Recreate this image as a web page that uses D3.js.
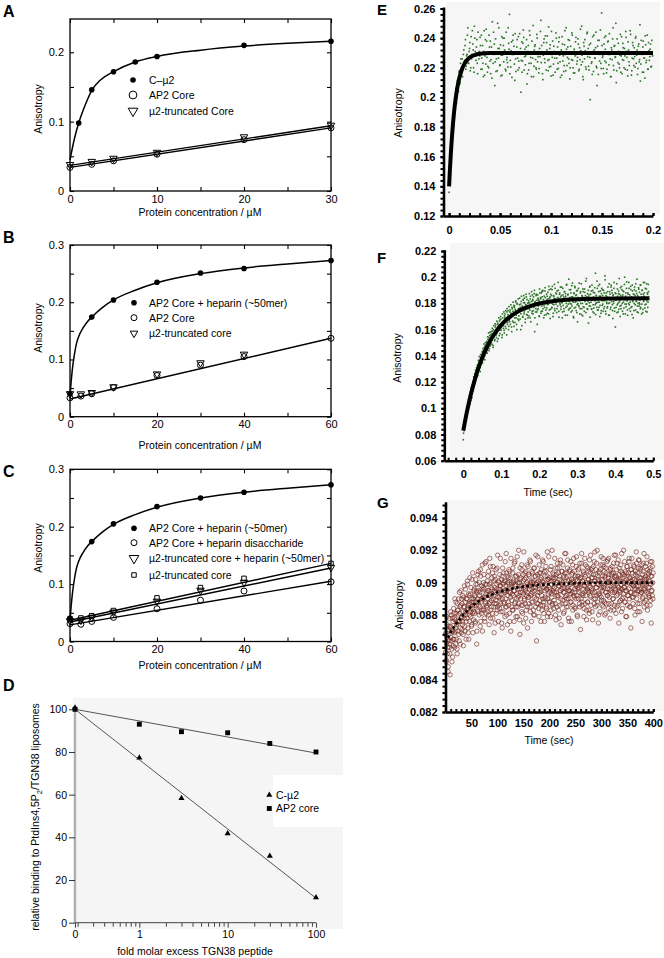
<!DOCTYPE html>
<html><head><meta charset="utf-8">
<script src="https://cdn.jsdelivr.net/npm/d3@7/dist/d3.min.js"></script>
<style>
html,body{margin:0;padding:0;background:#fff}
svg{display:block}
</style></head><body>
<svg id="fig" width="664" height="958" viewBox="0 0 664 958"></svg>
<script>
// ================= DATA =================
// Panel A
const aConc = [0, 2.5, 5, 10, 20, 30];
const aCmu2Conc = [1, 2.5, 5, 7.5, 10, 20, 30];
const aCmu2 = [0.098, 0.146, 0.172, 0.186, 0.194, 0.210, 0.216];
const aCore = [0.034, 0.0385, 0.0435, 0.053, 0.074, 0.091];
const aTrunc = [0.038, 0.0425, 0.047, 0.0556, 0.078, 0.0947];
const aCmu2FitX = [0, 0.5, 1, 1.5, 2, 2.5, 3.5, 5, 7.5, 10, 15, 20, 25, 30];
const aCmu2FitY = [0.045, 0.075, 0.098, 0.116, 0.1315, 0.145, 0.160, 0.172, 0.186, 0.194, 0.203, 0.209, 0.213, 0.216];
const aLineX = [0, 30];
const aCoreFit = [0.034, 0.091];
const aTruncFit = [0.037, 0.094];
const aXTicks = [0, 5, 10, 15, 20, 25, 30];
const aXLabels = [0, 10, 20, 30];
const aYTicks = [0, 0.05, 0.1, 0.15, 0.2];
const aYLabels = [0, 0.1, 0.2];
const aLegend = ["C\u2013\u00b52", "AP2 Core", "\u00b52-truncated Core"];

// Panel B
const bConc = [0, 2.5, 5, 10, 20, 30, 40, 60];
const bHepConc = [0, 5, 10, 20, 30, 40, 60];
const bHep = [0.040, 0.174, 0.204, 0.235, 0.251, 0.259, 0.273];
const bCore = [0.033, 0.036, 0.040, 0.051, 0.072, 0.090, 0.105, 0.137];
const bTruncConc = [0, 2.5, 5, 10, 20, 30, 40];
const bTrunc = [0.040, 0.0397, 0.042, 0.052, 0.0745, 0.094, 0.109];
const bHepFitX = [0, 0.25, 0.5, 1, 1.5, 2, 3, 4, 5, 7.5, 10, 15, 20, 30, 40, 50, 60];
const bHepFitY = [0.036, 0.06, 0.08, 0.108, 0.128, 0.140, 0.155, 0.166, 0.174, 0.191, 0.204, 0.221, 0.234, 0.250, 0.260, 0.267, 0.273];
const bLineX = [0, 60];
const bCoreFit = [0.031, 0.137];
const bLegend = ["AP2 Core + heparin (~50mer)", "AP2 Core", "\u00b52-truncated core"];

// Panel C
const cConc = [0, 2.5, 5, 10, 20, 30, 40, 60];
const cHepConc = [0, 5, 10, 20, 30, 40, 60];
const cHep = [0.040, 0.174, 0.205, 0.235, 0.250, 0.260, 0.273];
const cDis = [0.031, 0.030, 0.035, 0.042, 0.057, 0.072, 0.088, 0.104];
const cTruncHep = [0.036, 0.037, 0.042, 0.051, 0.070, 0.089, 0.103, 0.129];
const cTrunc = [0.040, 0.041, 0.045, 0.054, 0.076, 0.094, 0.110, 0.136];
const cHepFitY = [0.036, 0.06, 0.08, 0.108, 0.128, 0.140, 0.155, 0.166, 0.174, 0.191, 0.204, 0.221, 0.234, 0.250, 0.260, 0.267, 0.273];
const cLineX = [0, 60];
const cDisFit = [0.029, 0.105];
const cTruncHepFit = [0.034, 0.128];
const cTruncFit = [0.037, 0.136];
const bcXTicks = [0, 10, 20, 30, 40, 50, 60];
const bcXLabels = [0, 20, 40, 60];
const bcYTicks = [0, 0.05, 0.1, 0.15, 0.2, 0.25, 0.3];
const bcYLabels = [0, 0.1, 0.2, 0.3];
const cLegend = ["AP2 Core + heparin (~50mer)", "AP2 Core + heparin disaccharide", "\u00b52-truncated core + heparin (~50mer)", "\u00b52-truncated core"];

// Panel D
const dFold = [0, 1, 3, 10, 30, 100];
const dCmu2 = [101, 77.5, 58.5, 42, 31.5, 12];
const dCore = [100, 93, 89.5, 89, 84, 80];
const dFitFold = [0, 100];
const dCmu2Fit = [100, 11.5];
const dCoreFit = [100, 79.5];
const dZeroAt = 0.187;           // position of "0" on the log axis
const dXMajor = [0, 1, 10, 100];
const dXMinor = [0.2,0.3,0.4,0.5,0.6,0.7,0.8,0.9,2,3,4,5,6,7,8,9,20,30,40,50,60,70,80,90];
const dYTicks = [0, 20, 40, 60, 80, 100];
const dLegend = ["C-\u00b52", "AP2 core"];

// Panel E (anisotropy x 1e4; sweep a sampled at i*eStep, sweep b at (i+0.5)*eStep)
const eStep = 0.0008;
const eAniso1e4 = [1360,1480,1655,1720,1760,1890,1850,1990,2030,1960,2110,2060,2170,2090,2230,2150,2260,2190,2320,2250,2390,2210,2290,2470,2230,2330,2180,2410,2290,2360,2200,2480,2310,2250,2390,2160,2300,
2310,2405,2190,2265,2350,2140,2450,2280,2225,2380,
2170,2300,2420,2245,2160,2340,2510,2230,2290,2080,
2395,2260,2180,2330,2470,2215,2355,2285,2150,2400,
2240,2320,2190,2440,2270,2205,2365,2560,2250,2315,
2135,2385,2290,2225,2430,2175,2340,2265,2410,2200,
2300,2035,2375,2245,2455,2185,2325,2280,2390,2160,
2350,2230,2420,2270,2140,2305,2485,2210,2345,2255,
2190,2400,2275,2165,2330,2445,2235,2295,2120,2370,
2260,2415,2185,2320,2250,2475,2205,2355,2145,2290,
2380,2225,2310,2170,2435,2265,2340,2195,2405,2240,
2300,2150,2360,2280,2215,2450,2180,2325,2270,2390,
2230,2125,2345,2255,2420,2200,2310,2165,2375,2290,
2245,2395,2180,2335,2460,2220,2285,2140,2370,2260,
2315,2190,2430,2275,2210,2355,1985,2300,2240,2410,
2175,2320,2265,2440,2200,2345,2155,2385,2290,2230,
2570,2270,2195,2360,2245,2415,2165,2305,2380,2220,
2290,2140,2335,2255,2470,2185,2350,2275,2100,2395,
2235,2310,2200,2425,2280,2160,2365,2250,2330,2190,
2405,2270,2145,2320,2215,2450,2295,2180,2370,2260,
2335,2205,2410,2285,2155,2345,2240,2490,2225,2300,
2170,2380,2265,2130,2355,2250,2420,2190,2315,2275,
2360,2210,2300];
const eAniso1e4b = [1420,1590,1610,1770,1830,1800,1950,1930,2060,2000,2120,2040,2180,2100,2260,2200,2140,2290,2240,2350,2190,2280,2420,2230,2310,2370,2200,2260,2450,2320,2170,2400,2280,2340,2230,2440,2260,
2280,2350,2420,2190,2230,2310,2150,2390,2460,2270,
2210,2200,2340,2380,2255,2130,2305,2440,2360,2240,
2175,2295,2500,2265,2330,2220,2145,2410,2285,2350,
2400,2310,2180,2255,2235,2470,2325,2160,2205,2375,
2290,2420,2345,2115,2260,2300,2390,2185,2245,2430,
2330,2250,2170,2365,2405,2275,2220,2340,2090,2310,
2185,2450,2295,2230,2380,2265,2140,2320,2355,2200,
2425,2240,2310,2195,2275,2520,2350,2160,2285,2395,
2235,2300,2370,2415,2180,2255,2330,2210,2445,2270,
2150,2345,2265,2305,2400,2190,2230,2375,2285,2135,
2320,2410,2245,2175,2355,2290,2470,2215,2340,2260,
2385,2200,2300,2435,2250,2165,2325,2280,2405,2225,
2270,2360,2190,2255,2315,2480,2240,2120,2345,2390,
2205,2295,2440,2330,2185,2270,2365,2230,2155,2310,
2420,2265,2335,2210,2080,2385,2300,2245,2455,2195,
2350,2280,2160,2405,2325,2235,2190,2375,2290,2430,
2260,2140,2320,2395,2215,2345,2270,2500,2180,2305,
2365,2225,2285,2170,2410,2255,2335,2200,2280,2445,
2310,2185,2375,2240,2300,2425,2150,2265,2350,2215,
2275,2400,2230,2320,2195,2360,2255,2110,2385,2290,
2340,2170,2265,2415,2235,2305,2190,2370,2250,2325,
2205,2385,2280];
const eFitT = [0, 0.0004, 0.001, 0.002, 0.003, 0.004, 0.005, 0.006, 0.008, 0.010, 0.012, 0.015, 0.018, 0.021, 0.025, 0.03, 0.04, 0.06, 0.2];
const eFitY = [0.140, 0.1458, 0.1538, 0.1655, 0.1754, 0.1838, 0.1909, 0.1969, 0.2063, 0.2130, 0.2178, 0.2226, 0.2255, 0.2273, 0.2286, 0.2294, 0.2299, 0.2300, 0.2300];
const eXTicks = [0, 0.05, 0.1, 0.15, 0.2];
const eYTicks = [0.12, 0.14, 0.16, 0.18, 0.2, 0.22, 0.24, 0.26];

// Panel F (anisotropy x 1e4; two interleaved sweeps)
const fStep = 0.00122;
const fAniso1e4 = [760,872,830,905,890,940,905,968,1010,975,
1030,995,1060,1040,1095,1065,1120,1090,1150,1115,
1140,1190,1165,1230,1185,1250,1210,1275,1235,1300,
1255,1320,1280,1345,1295,1360,1310,1385,1330,1395,
1350,1410,1370,1440,1390,1465,1400,1475,1420,1485,
1430,1500,1445,1525,1470,1540,1455,1555,1490,1560,
1505,1570,1520,1590,1480,1600,1545,1575,1525,1620,
1635,1560,1610,1575,1650,1530,1625,1595,1665,1570,
1600,1680,1615,1650,1560,1690,1630,1660,1595,1705,
1720,1655,1610,1690,1735,1640,1700,1745,1625,1670,
1660,1750,1690,1725,1620,1770,1700,1740,1655,1785,
1770,1690,1755,1810,1710,1640,1795,1725,1680,1760,
1705,1790,1735,1770,1600,1815,1745,1780,1695,1830,
1805,1720,1840,1750,1680,1790,1850,1760,1710,1800,
1735,1820,1760,1805,1690,1855,1770,1815,1725,1865,
1830,1745,1770,1875,1585,1810,1735,1860,1790,1825,
1750,1840,1780,1820,1700,1880,1795,1835,1740,1890,
1850,1900,1760,1830,1785,1710,1895,1845,1750,1800,
1765,1855,1790,1835,1720,1905,1810,1850,1755,1910,
1860,1770,1930,1795,1725,1855,1840,1760,1915,1815,
1795,1872,1760,1845,1818,1900,1740,1830,1880,1790,
1850,1775,1925,1805,1735,1865,1820,1760,1890,1840,
1710,1855,1800,1945,1780,1835,1870,1750,1815,1905,
1825,1765,1880,1795,1935,1745,1850,1810,1690,1875,
1840,1920,1770,1815,1865,1730,1900,1800,1845,1785,
1955,1820,1760,1890,1835,1715,1860,1800,1910,1775,
1845,1740,1885,1825,1970,1795,1850,1760,1875,1815,
1650,1865,1805,1930,1780,1840,1895,1755,1830,1900,
1790,1850,1725,1880,1820,2030,1800,1860,1770,1915,
1835,1750,1890,1810,1945,1785,1855,1725,1875,1820,
1905,1795,1840,1760,1880,1825,1980,1740,1860,1810,
1850,1775,1925,1800,1845,1710,1890,1830,1770,1940,
1815,1880,1745,1860,1800,1915,1765,1840,1620,1875,
1825,1950,1790,1855,1735,1895,1810,1870,1780,1920,
1760,1845,1905,1800,1865,1720,1890,1830,2000,1795,
1855,1775,1915,1820,1750,1880,1840,1960,1790,1865,
1810,1930,1770,1850,1715,1895,1825,1870,1745,1905,
1840,1790,1950,1815,1875,1735,1860,1800,1920,1780,
1885,1825,1760,1940,1845,1795,1900,1730,1870,1815,
1855,1960,1790,1835,1740,1910,1820,1880,1770,1945];
const fAniso1e4b = [810,900,845,930,870,960,920,995,940,1020,
985,1070,1010,1100,1030,1125,1060,1160,1080,1180,
1205,1135,1240,1170,1265,1195,1290,1220,1310,1245,
1330,1250,1365,1290,1395,1315,1280,1410,1340,1375,
1430,1345,1455,1380,1490,1405,1370,1500,1435,1460,
1510,1420,1545,1465,1575,1440,1525,1580,1475,1540,
1585,1490,1610,1540,1465,1630,1560,1515,1645,1575,
1600,1540,1665,1510,1640,1590,1690,1555,1620,1675,
1700,1595,1645,1540,1720,1660,1610,1735,1575,1690,
1625,1745,1690,1560,1760,1655,1715,1600,1775,1680,
1735,1640,1790,1700,1585,1760,1665,1810,1720,1625,
1780,1655,1745,1820,1690,1600,1800,1735,1835,1670,
1760,1840,1680,1795,1720,1855,1630,1775,1700,1825,
1860,1735,1805,1655,1790,1870,1715,1830,1760,1690,
1805,1705,1875,1750,1835,1660,1790,1890,1740,1820,
1720,1850,1775,1900,1690,1815,1760,1870,1735,1640,
1865,1760,1830,1705,1910,1790,1845,1725,1880,1780,
1740,1895,1815,1690,1855,1770,1920,1800,1715,1870,
1830,1725,1885,1795,1930,1750,1840,1685,1870,1805,
1765,1905,1820,1700,1860,1790,1945,1745,1835,1880,
1815,1730,1895,1780,1960,1840,1695,1870,1800,1925,
1755,1860,1810,1690,1915,1785,1850,1740,1890,1830,
1875,1770,1940,1820,1710,1865,1795,1985,1760,1845,
1800,1905,1735,1850,1780,1955,1820,1700,1880,1765,
1930,1810,1860,1745,1895,1790,1660,1840,1915,1775,
1825,1720,1880,1800,1950,1760,1855,1705,1890,1835,
1770,1910,1815,1860,1730,1990,1795,1845,1755,1900,
1850,1780,1925,1695,1870,1810,1760,1940,1825,1735,
1885,1765,1840,1920,1790,1715,1860,1805,1970,1750,
1810,1935,1770,1855,1700,1895,1830,1745,1915,1785,
1860,1740,1900,1820,1775,2010,1845,1720,1880,1800,
1765,1890,1835,1710,1950,1805,1870,1755,1925,1840,
1900,1790,1685,1865,1815,1960,1740,1880,1825,1770,
1845,1730,1910,1800,1875,1755,1990,1820,1700,1860,
1785,1930,1850,1740,1895,1810,1765,1945,1830,1720,
1880,1795,1965,1825,1710,1870,1800,1915,1760,1845,
1740,1905,1830,1775,1940,1815,1690,1870,1800,1925,
1860,1750,1895,1820,1985,1780,1845,1730,1910,1805,
1795,1940,1770,1870,1720,1900,1835,1755,1960,1825,
1880,1765,1915,1840,1795,1950,1735,1870,1810,1890];
const fFitT = [0, 0.01, 0.02, 0.03, 0.04, 0.05, 0.06, 0.07, 0.08, 0.1, 0.12, 0.14, 0.16, 0.18, 0.2, 0.25, 0.3, 0.35, 0.4, 0.49];
const fFitY = [0.083, 0.098, 0.1107, 0.1215, 0.1308, 0.1387, 0.1453, 0.1511, 0.1559, 0.1636, 0.1692, 0.1732, 0.1762, 0.1783, 0.1799, 0.1822, 0.1832, 0.1836, 0.1838, 0.184];
const fXTicks = [0, 0.1, 0.2, 0.3, 0.4, 0.5];
const fYTicks = [0.06, 0.08, 0.1, 0.12, 0.14, 0.16, 0.18, 0.2, 0.22];

// Panel G (anisotropy x 1e5; two interleaved sweeps)
const gStep = 0.8;
const gAniso1e5 = [8570,8690,8520,8660,8740,8600,8450,8710,8640,8780,
8620,8430,8730,8660,8800,8590,8700,8540,8760,8650,
8810,8690,8600,8770,8720,8880,8650,8740,8560,8830,
8700,8800,8900,8640,8760,8850,8720,8950,8690,8790,
8870,8740,8820,8610,8910,8780,8850,8700,8960,8800,
8760,8900,8830,8990,8720,8860,8650,8920,8800,8870,
8930,8790,8880,8740,9020,8840,8690,8900,8820,8960,
8810,8910,8750,8990,8860,8620,8940,8830,9050,8880,
8950,8800,8920,8850,9080,8760,8900,8980,8830,8700,
8910,9000,8840,8960,8780,9120,8870,8930,8810,8990,
8860,8950,9040,8800,8920,8740,8990,8880,9100,8830,
8970,8850,8930,9060,8780,8900,9010,8690,8950,8870,
9020,8890,8810,8960,9090,8850,8940,8760,9000,8910,
8840,8980,9150,8870,8930,8750,9040,8900,8820,8990,
9060,8880,8950,8790,9010,8900,9180,8850,8960,8740,
8920,9030,8860,8990,8810,9070,8940,8700,9000,8890,
8970,8830,9090,8920,9010,8760,8950,9130,8880,8990,
8850,9040,8930,8790,9000,8910,9200,8870,8960,8680,
9020,8900,8980,8820,9080,8940,8860,9010,8750,8970,
8890,9060,8950,8780,9030,8920,9110,8850,8990,8910,
9050,8870,8960,9140,8820,9000,8930,8760,9070,8940,
8880,9010,8800,8970,9090,8910,9040,8850,8990,8640,
9000,8920,9160,8870,8980,8790,9060,8940,9020,8860,
8950,9080,8830,9010,8900,9130,8880,8970,8760,9040,
8910,8990,9070,8840,8960,9190,8900,9020,8810,8970,
9030,8880,8960,8790,9100,8930,9010,8860,9060,8950,
8840,9020,8940,9150,8870,8990,8770,9050,8920,9000,
9090,8910,8830,8980,9040,8860,9120,8950,8740,9010,
8960,9070,8890,9000,8810,9030,8940,9180,8870,8990,
8920,8850,9060,8970,9140,8900,8780,9020,8950,9080,
8880,9000,8930,8760,9050,8970,9110,8860,9010,8920,
9070,8940,8840,9020,8900,9160,8980,8800,9040,8960,
8900,9090,8970,8850,9030,8710,9000,8930,9120,8880,
9010,8920,9060,8790,8980,9150,8870,9040,8950,8830,
9100,8960,8880,9020,8940,9070,8810,9000,8920,9170,
8860,9030,8950,9090,8770,8990,9050,8900,9130,8940,
9010,8850,9080,8970,8920,9200,8880,9020,8750,8990,
8930,9060,8820,9000,9110,8910,8970,8860,9040,9150,
8890,8980,9070,8800,9030,8940,9090,8870,9000,8920,
9140,8960,8840,9050,8910,9010,8780,9080,8950,9020,
8870,9100,8990,8900,9060,8830,9170,8940,9030,8960,
8810,9040,8920,9120,8980,8860,9010,8750,9090,8950,
9020,8890,9070,8960,9180,8900,8840,9050,8930,9000,
8970,9130,8880,9010,8790,9060,8950,9100,8860,9040,
8920,9000,9150,8850,9030,8940,8720,9080,8990,8910,
9060,8870,8980,9110,8930,9020,8800,9070,8960,9190,
8900,9040,8950,8820,9090,8980,9140,8870,9010,8930,
9080,8940,9000,8760,9050,8910,9120,8990,8850,9030,
8960,9100,8890,9020,8940,9160,8830,9060,8970,9010,
8920,9070,8860,9130,8990,8750,9040,8950,9100,8900];
const gAniso1e5b = [8680,8510,8620,8790,8560,8700,8480,8650,8730,8600,
8560,8720,8820,8640,8690,8510,8780,8700,8610,8840,
8650,8780,8900,8700,8620,8810,8750,8590,8870,8760,
8830,8680,8760,8940,8810,8620,8860,8780,8900,8710,
8760,8920,8680,8850,8800,8980,8730,8880,8820,8650,
8900,8780,9010,8840,8690,8930,8870,8760,9030,8820,
8840,8970,8730,8900,8810,9060,8880,8770,8950,8860,
8920,8760,9020,8880,8950,8700,8990,8900,8820,9070,
8860,9000,8940,8730,9040,8880,8810,8960,9110,8900,
8970,8830,9050,8910,8760,8990,8880,9130,8850,8940,
9010,8900,8820,9070,8950,8870,9150,8930,8780,9000,
8890,9030,8960,8810,9100,8920,8850,9040,8970,8750,
8940,9080,8870,8990,8830,9170,8910,9010,8860,8960,
9050,8900,8980,8820,9020,8950,8720,9090,8930,9000,
8870,9010,8940,9130,8850,8980,9060,8800,8950,9040,
9000,8880,9080,8940,8760,9030,8910,9150,8990,8850,
8930,9060,8830,9000,8950,9120,8870,8980,9040,8790,
9010,8900,9160,8960,8850,9050,8920,9000,8770,9090,
8940,9030,8860,9110,8980,8810,9050,8930,9190,8900,
9020,8870,8960,9070,8830,9000,8940,8720,9100,8980,
8910,9040,8980,8850,9130,8920,9010,8880,8960,9060,
9000,8830,9090,8950,8800,9040,8970,9170,8900,8990,
8870,9050,8940,9010,8840,9110,8960,8890,9060,8760,
9030,8920,8990,9140,8860,9000,8810,9070,8950,8900,
8980,9100,8850,8960,9040,8790,9020,8930,9160,8880,
8940,9010,9080,8830,8990,8910,9200,8870,9030,8960,
9050,8890,8970,9030,8800,9090,8940,9000,8850,9120,
8920,9060,8980,8780,9020,8950,9140,8900,8990,9070,
8870,8990,9110,8940,9040,8820,8970,9060,8910,9180,
9030,8900,8960,9090,8850,9010,8950,8760,9070,8930,
8990,9130,8880,9020,8940,9060,8830,9000,9150,8910,
8960,8850,9040,8990,9100,8920,9010,8790,8970,9080,
9040,8940,8870,9120,8990,9030,8900,9180,8860,9010,
8930,9070,8960,8840,9050,8980,9110,8920,9000,8770,
8990,8880,9090,8950,9020,8830,9140,8970,9060,8910,
9080,8960,8820,9030,8940,9100,8990,8870,9010,9190,
8900,9050,8970,9120,8860,8990,9040,8930,8800,9070,
9010,8920,9080,8960,9160,8890,9020,8950,9110,8850,
8970,9100,8880,9040,8990,8810,9060,8940,9130,9000,
8920,9030,9150,8870,9000,8960,9090,8830,8980,9050,
9060,8940,9010,8900,9120,8980,8860,9040,8950,9170,
8990,9080,8850,9020,8930,9140,8970,9050,8880,9010,
8940,9110,8990,8820,9060,8960,9030,8910,9200,8970,
9040,8880,9070,8950,9000,8790,9100,8990,8920,9060,
8960,9130,8900,9030,8850,9010,9080,8940,9150,8990,
9020,8910,8980,9100,8960,8840,9050,9010,8930,9120,
8980,9060,8870,9000,9140,8950,9030,8820,9090,8960,
9030,8940,9110,8990,8900,9070,8960,9180,8880,9020,
8950,9040,8990,9120,8860,9000,9080,8930,9050,8910,
9010,8970,9090,8890,9040,8950,9130,8920,9000,9060];
const gFitT = [0, 10, 20, 30, 40, 50, 60, 75, 100, 125, 150, 175, 200, 250, 300, 400];
const gFitY = [0.0863, 0.08691, 0.08743, 0.08785, 0.08821, 0.08851, 0.08876, 0.08905, 0.0894, 0.08962, 0.08976, 0.08985, 0.0899, 0.08996, 0.0900, 0.0900];
const gXTicks = [50, 100, 150, 200, 250, 300, 350, 400];
const gYTicks = [0.082, 0.084, 0.086, 0.088, 0.09, 0.092, 0.094];

// ================= DRAWING =================
const FONT = '"Liberation Sans", Arial, Helvetica, sans-serif';
const svg = d3.select("#fig");
svg.append("rect").attr("width", 664).attr("height", 958).attr("fill", "#fff");

function txt(g, x, y, s, size, opts) {
  opts = opts || {};
  const t = g.append("text").attr("x", x).attr("y", y).text(s)
    .attr("font-family", FONT).attr("font-size", size)
    .attr("font-weight", opts.weight || "normal").attr("fill", "#000")
    .attr("text-anchor", opts.anchor || "start");
  if (opts.rotate) t.attr("transform", `rotate(-90,${x},${y})`);
  return t;
}

function mark(g, kind, cx, cy, s) {
  s = s || 1;
  if (kind === "fcirc") return g.append("circle").attr("cx", cx).attr("cy", cy).attr("r", 2.8 * s).attr("fill", "#000");
  if (kind === "ocirc") return g.append("circle").attr("cx", cx).attr("cy", cy).attr("r", 3 * s).attr("fill", "none").attr("stroke", "#000").attr("stroke-width", 1);
  if (kind === "otri") return g.append("path").attr("d", d3.symbol(d3.symbolTriangle, 24 * s * s)()).attr("transform", `translate(${cx},${cy}) rotate(180)`).attr("fill", "none").attr("stroke", "#000").attr("stroke-width", 1);
  if (kind === "osq") return g.append("path").attr("d", d3.symbol(d3.symbolSquare, 20 * s * s)()).attr("transform", `translate(${cx},${cy})`).attr("fill", "none").attr("stroke", "#000").attr("stroke-width", 1);
  if (kind === "ftri") return g.append("path").attr("d", d3.symbol(d3.symbolTriangle, 16 * s * s)()).attr("transform", `translate(${cx},${cy})`).attr("fill", "#000");
  if (kind === "fsq") return g.append("path").attr("d", d3.symbol(d3.symbolSquare, 24 * s * s)()).attr("transform", `translate(${cx},${cy})`).attr("fill", "#000");
}

function series(g, x, y, xs, ys, kind) {
  xs.forEach((v, i) => mark(g, kind, x(v), y(ys[i])));
}

function fitLine(g, x, y, xs, ys, w, curve) {
  const line = d3.line().x(d => x(d[0])).y(d => y(d[1])).curve(curve || d3.curveLinear);
  g.append("path").datum(d3.zip(xs, ys)).attr("d", line)
    .attr("fill", "none").attr("stroke", "#000").attr("stroke-width", w || 1.4).attr("stroke-linejoin", "round");
}

function framed(g, x, y, xT, xL, yT, yL) {
  const [xa, xb] = x.range(), [ya, yb] = y.range();
  const axes = [
    g.append("g").attr("transform", `translate(0,${ya})`).call(d3.axisBottom(x).tickValues(xT).tickSizeInner(-4).tickSizeOuter(0).tickPadding(4).tickFormat(v => xL.includes(v) ? String(v) : "")),
    g.append("g").attr("transform", `translate(0,${yb})`).call(d3.axisTop(x).tickValues(xT).tickSizeInner(-4).tickSizeOuter(0).tickFormat("")),
    g.append("g").attr("transform", `translate(${xa},0)`).call(d3.axisLeft(y).tickValues(yT).tickSizeInner(-4).tickSizeOuter(0).tickPadding(6).tickFormat(v => yL.includes(v) ? String(v) : "")),
    g.append("g").attr("transform", `translate(${xb},0)`).call(d3.axisRight(y).tickValues(yT).tickSizeInner(-4).tickSizeOuter(0).tickFormat(""))
  ];
  axes.forEach(a => {
    a.select(".domain").remove();
    a.selectAll(".tick line").attr("stroke", "#000").attr("stroke-width", 1.1);
    a.selectAll("text").attr("font-family", FONT).attr("font-size", 11).attr("fill", "#000");
  });
  g.append("rect").attr("x", xa).attr("y", yb).attr("width", xb - xa).attr("height", ya - yb)
    .attr("fill", "none").attr("stroke", "#000").attr("stroke-width", 1.3);
}

function legend(g, items, kinds, mx, tx, ys, scales) {
  items.forEach((s, i) => {
    mark(g, kinds[i], mx, ys[i], scales ? scales[i] : 1);
    txt(g, tx, ys[i] + 3.8, s, 10.5);
  });
}

// ---------- Panel A ----------
{
  const g = svg.append("g");
  const x = d3.scaleLinear().domain([0, 30]).range([70, 331]);
  const y = d3.scaleLinear().domain([0, 0.248]).range([191, 19]);
  fitLine(g, x, y, aCmu2FitX, aCmu2FitY, 1.5, d3.curveMonotoneX);
  fitLine(g, x, y, aLineX, aCoreFit, 1.4);
  fitLine(g, x, y, aLineX, aTruncFit, 1.4);
  series(g, x, y, aConc, aCore, "ocirc");
  series(g, x, y, aConc, aTrunc, "otri");
  series(g, x, y, aCmu2Conc, aCmu2, "fcirc");
  framed(g, x, y, aXTicks, aXLabels, aYTicks, aYLabels);
  legend(g, aLegend, ["fcirc", "ocirc", "otri"], 133, 149, [80, 95, 111], [1, 1.3, 1.3]);
  txt(g, 200, 215.5, "Protein concentration / \u00b5M", 10.5, {anchor: "middle"});
  txt(g, 42, 109, "Anisotropy", 10.5, {anchor: "middle", rotate: true});
  txt(g, 3, 17, "A", 16, {weight: "bold"});
}

// ---------- Panel B ----------
{
  const g = svg.append("g");
  const x = d3.scaleLinear().domain([0, 60]).range([70, 331]);
  const y = d3.scaleLinear().domain([0, 0.3]).range([416.7, 245]);
  fitLine(g, x, y, bHepFitX, bHepFitY, 1.5, d3.curveMonotoneX);
  fitLine(g, x, y, bLineX, bCoreFit, 1.4);
  series(g, x, y, bConc, bCore, "ocirc");
  series(g, x, y, bTruncConc, bTrunc, "otri");
  series(g, x, y, bHepConc, bHep, "fcirc");
  framed(g, x, y, bcXTicks, bcXLabels, bcYTicks, bcYLabels);
  legend(g, bLegend, ["fcirc", "ocirc", "otri"], 134, 149, [302.7, 317.7, 333.3]);
  txt(g, 200, 449, "Protein concentration / \u00b5M", 10.5, {anchor: "middle"});
  txt(g, 42, 328, "Anisotropy", 10.5, {anchor: "middle", rotate: true});
  txt(g, 3, 243, "B", 16, {weight: "bold"});
}

// ---------- Panel C ----------
{
  const g = svg.append("g");
  const x = d3.scaleLinear().domain([0, 60]).range([70, 331]);
  const y = d3.scaleLinear().domain([0, 0.3]).range([641.5, 469.3]);
  fitLine(g, x, y, bHepFitX, cHepFitY, 1.5, d3.curveMonotoneX);
  fitLine(g, x, y, cLineX, cDisFit, 1.4);
  fitLine(g, x, y, cLineX, cTruncHepFit, 1.4);
  fitLine(g, x, y, cLineX, cTruncFit, 1.4);
  series(g, x, y, cConc, cDis, "ocirc");
  series(g, x, y, cConc, cTruncHep, "otri");
  series(g, x, y, cConc, cTrunc, "osq");
  series(g, x, y, cHepConc, cHep, "fcirc");
  framed(g, x, y, bcXTicks, bcXLabels, bcYTicks, bcYLabels);
  legend(g, cLegend, ["fcirc", "ocirc", "otri", "osq"], 134, 149, [528.3, 542.7, 558.3, 575], [1, 1, 1.3, 1]);
  txt(g, 200, 669, "Protein concentration / \u00b5M", 10.5, {anchor: "middle"});
  txt(g, 42, 548, "Anisotropy", 10.5, {anchor: "middle", rotate: true});
  txt(g, 3, 477, "C", 16, {weight: "bold"});
}

// ---------- Panel D ----------
{
  const g = svg.append("g");
  g.append("rect").attr("x", 73).attr("y", 698).attr("width", 270).attr("height", 231).attr("fill", "#f5f5f5");
  g.append("rect").attr("x", 273).attr("y", 775).attr("width", 70).attr("height", 52).attr("fill", "#fff");
  const x = d3.scaleLog().domain([dZeroAt, 100]).range([75, 316]);
  const fx = v => x(v === 0 ? dZeroAt : v);
  const y = d3.scaleLinear().domain([0, 100]).range([922.7, 709.3]);
  g.append("line").attr("x1", 75).attr("x2", 75).attr("y1", y(100)).attr("y2", y(0)).attr("stroke", "#b0b0b0").attr("stroke-width", 2.4);
  const ya = g.append("g").attr("transform", "translate(75,0)")
    .call(d3.axisLeft(y).tickValues(dYTicks).tickSize(6).tickPadding(2));
  ya.select(".domain").remove();
  ya.selectAll(".tick line").attr("stroke", "#333").attr("stroke-width", 1);
  ya.selectAll("text").attr("font-family", FONT).attr("font-size", 10.5).attr("fill", "#000");
  const xa = g.append("g").attr("transform", `translate(0,${y(0)})`)
    .call(d3.axisBottom(x).tickValues(dXMajor.map(v => v === 0 ? dZeroAt : v)).tickSize(5).tickSizeOuter(0).tickPadding(3)
      .tickFormat(v => v === dZeroAt ? "0" : String(v)));
  xa.select(".domain").attr("stroke", "#444").attr("stroke-width", 1).attr("d", `M${x(dZeroAt)},0H${x(100)}`);
  xa.selectAll(".tick line").attr("stroke", "#444");
  xa.selectAll("text").attr("font-family", FONT).attr("font-size", 10.5).attr("fill", "#000");
  const xm = g.append("g").attr("transform", `translate(0,${y(0)})`)
    .call(d3.axisBottom(x).tickValues(dXMinor).tickSize(4).tickFormat(""));
  xm.select(".domain").remove();
  xm.selectAll(".tick line").attr("stroke", "#444");
  const line = d3.line().x(d => fx(d[0])).y(d => y(d[1]));
  g.append("path").datum(d3.zip(dFitFold, dCmu2Fit)).attr("d", line).attr("stroke", "#555").attr("stroke-width", 1).attr("fill", "none");
  g.append("path").datum(d3.zip(dFitFold, dCoreFit)).attr("d", line).attr("stroke", "#555").attr("stroke-width", 1).attr("fill", "none");
  dFold.forEach((v, i) => { mark(g, "fsq", fx(v), y(dCore[i])); mark(g, "ftri", fx(v), y(dCmu2[i]) + 0.5); });
  mark(g, "ftri", 269.3, 795); txt(g, 276, 798.5, dLegend[0], 10.5);
  mark(g, "fsq", 269.3, 808.5); txt(g, 276, 812, dLegend[1], 10.5);
  const yt = g.append("text").attr("transform", "translate(39,817) rotate(-90)").attr("text-anchor", "middle")
    .attr("font-family", FONT).attr("font-size", 10.5).attr("fill", "#000");
  yt.append("tspan").text("relative binding to PtdIns4,5P");
  yt.append("tspan").text("2").attr("font-size", 7.5).attr("dy", 3);
  yt.append("tspan").text("/TGN38 liposomes").attr("dy", -3);
  txt(g, 195, 955, "fold molar excess TGN38 peptide", 10.5, {anchor: "middle"});
  txt(g, 3, 691, "D", 16, {weight: "bold"});
}

// ---------- Kinetic panels E, F, G ----------
function kinPanel(o) {
  const g = svg.append("g");
  g.append("rect").attr("x", o.bg[0]).attr("y", o.bg[1]).attr("width", o.bg[2] - o.bg[0]).attr("height", o.bg[3] - o.bg[1]).attr("fill", "#f6f6f6");
  const pts = g.append("g");
  const sweeps = [[o.vals, 0], [o.vals2, 0.5]];
  sweeps.forEach(([vals, off]) => {
    if (o.circles) {
      pts.append("g").selectAll("circle").data(vals).join("circle")
        .attr("cx", (v, i) => o.x((i + off) * o.step)).attr("cy", v => o.y(v / o.unit)).attr("r", 2.2)
        .attr("fill", "none").attr("stroke", "#74281e").attr("stroke-opacity", 0.7).attr("stroke-width", 0.9);
    } else {
      pts.append("g").selectAll("rect").data(vals).join("rect")
        .attr("x", (v, i) => o.x((i + off) * o.step) - 0.8).attr("y", v => o.y(v / o.unit) - 0.8)
        .attr("width", 1.6).attr("height", 1.6).attr("fill", "#2a7224");
    }
  });
  const line = d3.line().x(d => o.x(d[0])).y(d => o.y(d[1])).curve(d3.curveMonotoneX);
  const p = g.append("path").datum(d3.zip(o.fitT, o.fitY)).attr("d", line)
    .attr("fill", "none").attr("stroke", "#000").attr("stroke-width", o.fitW);
  if (o.dash) p.attr("stroke-dasharray", o.dash); else p.attr("stroke-linejoin", "round");
  const [xa] = o.x.range(), [ya] = o.y.range();
  const left = g.append("g").attr("transform", `translate(${xa},0)`)
    .call(d3.axisLeft(o.y).tickValues(o.yMaj).tickFormat(String).tickSizeInner(3).tickSizeOuter(0).tickPadding(5));
  const leftMin = g.append("g").attr("transform", `translate(${xa},0)`)
    .call(d3.axisLeft(o.y).tickValues(o.yMin).tickSizeInner(3).tickSizeOuter(0).tickFormat(""));
  const bot = g.append("g").attr("transform", `translate(0,${ya})`)
    .call(d3.axisBottom(o.x).tickValues(o.xMaj).tickFormat(String).tickSizeInner(-3).tickSizeOuter(0).tickPadding(o.xPad));
  const botMin = g.append("g").attr("transform", `translate(0,${ya})`)
    .call(d3.axisBottom(o.x).tickValues(o.xMin).tickSizeInner(-3).tickSizeOuter(0).tickFormat(""));
  [leftMin, botMin].forEach(a => a.select(".domain").remove());
  [left, bot].forEach(a => a.select(".domain").attr("stroke", "#000").attr("stroke-width", 2.6));
  [left, leftMin, bot, botMin].forEach(a => {
    a.selectAll(".tick line").attr("stroke", "#000").attr("stroke-width", 2);
    a.selectAll("text").attr("font-family", FONT).attr("font-size", 11).attr("font-weight", "bold").attr("fill", "#000");
  });
  txt(g, o.ylab[0], o.ylab[1], "Anisotropy", 10.5, {anchor: "middle", rotate: true});
  if (o.xlab) txt(g, o.xlab[0], o.xlab[1], "Time (sec)", 10.5, {anchor: "middle"});
  txt(g, 377, o.letterY, o.letter, 15, {weight: "bold"});
}

kinPanel({
  letter: "E", letterY: 15, bg: [446, 2, 660, 215],
  x: d3.scaleLinear().domain([-0.0055, 0.2]).range([443.5, 653]),
  y: d3.scaleLinear().domain([0.12, 0.261]).range([216, 7]),
  vals: eAniso1e4, vals2: eAniso1e4b, step: eStep, unit: 1e4,
  fitT: eFitT, fitY: eFitY, fitW: 4,
  xMaj: eXTicks, xMin: d3.range(0, 0.2001, 0.01), yMaj: eYTicks, yMin: d3.range(0.12, 0.2601, 0.004),
  xPad: 10, ylab: [402, 113]
});
kinPanel({
  letter: "F", letterY: 263, bg: [450, 243, 664, 460],
  x: d3.scaleLinear().domain([-0.05, 0.5]).range([444.3, 653.3]),
  y: d3.scaleLinear().domain([0.06, 0.221]).range([460.7, 249.7]),
  vals: fAniso1e4, vals2: fAniso1e4b, step: fStep, unit: 1e4,
  fitT: fFitT, fitY: fFitY, fitW: 4,
  xMaj: fXTicks, xMin: d3.range(-0.04, 0.5001, 0.02), yMaj: fYTicks, yMin: d3.range(0.06, 0.2201, 0.004),
  xPad: 10, ylab: [401, 358], xlab: [548, 496]
});
kinPanel({
  letter: "G", letterY: 508, bg: [448, 500, 664, 711],
  x: d3.scaleLinear().domain([0, 400]).range([445.5, 653.3]),
  y: d3.scaleLinear().domain([0.082, 0.095]).range([712, 501.8]),
  vals: gAniso1e5, vals2: gAniso1e5b, step: gStep, unit: 1e5, circles: true,
  fitT: gFitT, fitY: gFitY, fitW: 2.6, dash: "2.6,2.6",
  xMaj: gXTicks, xMin: d3.range(0, 400.1, 10), yMaj: gYTicks, yMin: d3.range(0.082, 0.09501, 0.0004),
  xPad: 7, ylab: [403, 605], xlab: [549, 744]
});
</script>
</body></html>
